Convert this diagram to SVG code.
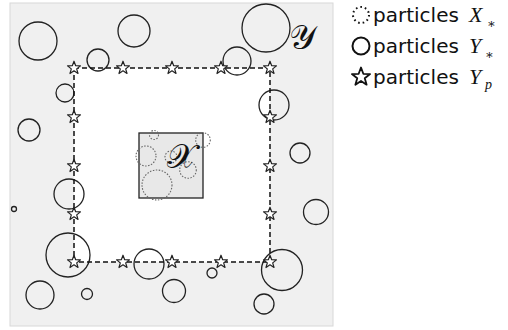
<svg xmlns="http://www.w3.org/2000/svg" xmlns:xlink="http://www.w3.org/1999/xlink" width="508" height="330" viewBox="0 0 508 330">
<style>
.ycirc{fill:none;stroke:#222;stroke-width:1.3}
.xcirc{fill:none;stroke:#666;stroke-width:1.1;stroke-dasharray:1.5 1.5}
.dash{fill:none;stroke:#111;stroke-width:1.5;stroke-dasharray:5 3}
.star{fill:#fff;stroke:#222;stroke-width:1.2;stroke-linejoin:round}
.lbl{font-family:"DejaVu Sans","Verdana",sans-serif;font-size:20px;fill:#111}
.math{font-family:"Liberation Serif","DejaVu Serif",serif;font-style:italic;fill:#111}
.script{font-family:"DejaVu Serif","Liberation Serif",serif;fill:#111}
</style>
<defs>
<path id="star" d="M0,-6.8 L1.66,-2.28 L6.47,-2.10 L2.69,0.87 L4.00,5.50 L0,2.83 L-4.00,5.50 L-2.69,0.87 L-6.47,-2.10 L-1.66,-2.28 Z"/>
</defs>
<g id="domainY">
<rect x="10" y="3" width="323" height="323" fill="#f0f0f0" stroke="#d8d8d8" stroke-width="1"/>
<rect x="74" y="68" width="196" height="194" fill="#fff"/>
<text class="script" x="289" y="49" font-size="34">𝒴</text>
</g>
<g id="particlesY">
<circle class="ycirc" cx="38" cy="41" r="19"/>
<circle class="ycirc" cx="134" cy="31" r="16"/>
<circle class="ycirc" cx="98" cy="60" r="11"/>
<circle class="ycirc" cx="65" cy="93" r="9"/>
<circle class="ycirc" cx="29" cy="130" r="11"/>
<circle class="ycirc" cx="266" cy="28" r="24"/>
<circle class="ycirc" cx="237" cy="61" r="14"/>
<circle class="ycirc" cx="274" cy="105" r="15"/>
<circle class="ycirc" cx="300" cy="153" r="10"/>
<circle class="ycirc" cx="69" cy="194" r="15"/>
<circle class="ycirc" cx="14" cy="209" r="2.5"/>
<circle class="ycirc" cx="68" cy="255" r="22"/>
<circle class="ycirc" cx="149" cy="264" r="15"/>
<circle class="ycirc" cx="40" cy="295" r="14"/>
<circle class="ycirc" cx="87" cy="294" r="5.5"/>
<circle class="ycirc" cx="174" cy="291" r="11.5"/>
<circle class="ycirc" cx="212" cy="273" r="5"/>
<circle class="ycirc" cx="282" cy="270" r="20.5"/>
<circle class="ycirc" cx="264" cy="304" r="10"/>
<circle class="ycirc" cx="316" cy="212" r="12.5"/>
</g>
<g id="domainX">
<rect x="139" y="133" width="64" height="65" fill="#e8e8e8" stroke="#222" stroke-width="1.3"/>
<circle class="xcirc" cx="154" cy="135" r="4.5"/>
<circle class="xcirc" cx="146" cy="156" r="10"/>
<circle class="xcirc" cx="171" cy="157" r="6"/>
<circle class="xcirc" cx="203" cy="140" r="7.3"/>
<circle class="xcirc" cx="188" cy="170" r="8.3"/>
<circle class="xcirc" cx="157" cy="185" r="15"/>
<text class="script" x="167" y="168" font-size="34">𝒳</text>
</g>
<g id="connectors">
<rect class="dash" x="74" y="68" width="196" height="194"/>
</g>
<g id="particlesYp">
<use href="#star" class="star" x="74" y="68"/>
<use href="#star" class="star" x="123" y="68"/>
<use href="#star" class="star" x="172" y="68"/>
<use href="#star" class="star" x="221" y="68"/>
<use href="#star" class="star" x="270" y="68"/>
<use href="#star" class="star" x="74" y="117"/>
<use href="#star" class="star" x="74" y="166"/>
<use href="#star" class="star" x="74" y="214"/>
<use href="#star" class="star" x="74" y="262"/>
<use href="#star" class="star" x="270" y="117"/>
<use href="#star" class="star" x="270" y="166"/>
<use href="#star" class="star" x="270" y="214"/>
<use href="#star" class="star" x="270" y="262"/>
<use href="#star" class="star" x="123" y="262"/>
<use href="#star" class="star" x="172" y="262"/>
<use href="#star" class="star" x="221" y="262"/>
</g>
<g id="legend">
<circle cx="361" cy="15" r="8" fill="none" stroke="#111" stroke-width="2" stroke-dasharray="1.6 3"/>
<text class="lbl" x="373" y="22">particles</text>
<text class="math" x="469" y="22" font-size="22">X</text>
<text class="math" x="487" y="28" font-size="13" font-style="normal">∗</text>
<circle cx="361" cy="46" r="8.5" fill="none" stroke="#111" stroke-width="2"/>
<text class="lbl" x="373" y="53">particles</text>
<text class="math" x="469" y="53" font-size="22">Y</text>
<text class="math" x="485" y="59" font-size="13" font-style="normal">∗</text>
<use href="#star" transform="translate(361 77) scale(1.4)" fill="#fff" stroke="#111" stroke-width="1.3" stroke-linejoin="round"/>
<text class="lbl" x="373" y="84">particles</text>
<text class="math" x="469" y="84" font-size="22">Y</text>
<text class="math" x="485" y="89" font-size="14">p</text>
</g>
</svg>
